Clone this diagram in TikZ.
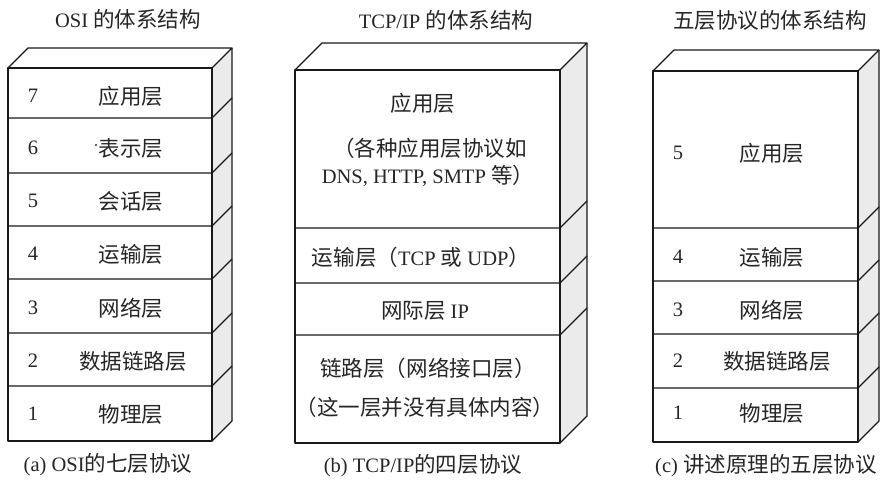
\documentclass[tikz,border=0pt]{standalone}
\usepackage{fontspec}
\setmainfont{Liberation Serif}
\newfontfamily\cjk[Scale=1.05]{Noto Sans CJK SC}
\tikzset{
  lbl/.style={inner sep=0pt, text=black!85, font=\fontsize{20.5}{24}\selectfont},
  sideface/.style={fill=black!8},
  edge/.style={line width=1.2pt, line join=round, draw=black!90}
}
\newcommand\drawstack[6]{%
  \fill[sideface] (#2,#3) -- ({#2+#5},{#3-#5}) -- ({#2+#5},{#4-#5}) -- (#2,#4) -- cycle;
  \draw[edge] (#1,#3) -- ({#1+#5},{#3-#5}) -- ({#2+#5},{#3-#5}) -- (#2,#3);
  \draw[edge] ({#2+#5},{#3-#5}) -- ({#2+#5},{#4-#5}) -- (#2,#4);
  \draw[edge] (#1,#3) rectangle (#2,#4);
  \foreach \yy in {#6} { \draw[edge] (#1,\yy) -- (#2,\yy) -- ({#2+#5},{\yy-#5}); }
}
\begin{document}
\begin{tikzpicture}[x=1pt,y=-1pt]
\useasboundingbox (0,0) rectangle (887,482);
\fill[white] (0,0) rectangle (887,482);

% ---------- (a) OSI ----------
\drawstack{8}{212}{68}{441}{20}{118,173,226,279,333,386}
\node[lbl] (ta) at (128,19) {OSI {\cjk 的体系结构}};
\node[lbl] (a7n) at (33,96) {7};
\node[lbl] (a7) at (131,96) {\cjk 应用层};
\node[lbl] (a6n) at (33,148) {6};
\node[lbl] (a6) at (131,148) {\cjk 表示层};
\fill[black!80] (96,145) circle (1.2);
\node[lbl] (a5n) at (33,201) {5};
\node[lbl] (a5) at (131,201) {\cjk 会话层};
\node[lbl] (a4n) at (33,254) {4};
\node[lbl] (a4) at (131,254) {\cjk 运输层};
\node[lbl] (a3n) at (33,308) {3};
\node[lbl] (a3) at (131,308) {\cjk 网络层};
\node[lbl] (a2n) at (33,361) {2};
\node[lbl] (a2) at (133,361) {\cjk 数据链路层};
\node[lbl] (a1n) at (33,414) {1};
\node[lbl] (a1) at (131,414) {\cjk 物理层};
\node[lbl] (ca) at (108,465) {(a) OSI{\cjk 的七层协议}};

% ---------- (b) TCP/IP ----------
\drawstack{295}{560}{70}{443}{27}{228,283,335}
\node[lbl] (tb) at (446,20) {TCP/IP {\cjk 的体系结构}};
\node[lbl] (b4) at (423,103) {\cjk 应用层};
\node[lbl] (b4a) at (430,148) {\cjk （各种应用层协议如};
\node[lbl] (b4b) at (428,176) {DNS, HTTP, SMTP {\cjk 等）}};
\node[lbl] (b3) at (421,257) {{\cjk 运输层（}TCP {\cjk 或} UDP{\cjk ）}};
\node[lbl] (b2) at (425,311) {{\cjk 网际层} IP};
\node[lbl] (b1a) at (428,368) {\cjk 链路层（网络接口层）};
\node[lbl] (b1b) at (425,407) {\cjk （这一层并没有具体内容）};
\node[lbl] (cb) at (423,466) {(b) TCP/IP{\cjk 的四层协议}};

% ---------- (c) five layers ----------
\drawstack{653}{858}{71}{442}{21}{228,281,334,388}
\node[lbl] (tc) at (770,20) {\cjk 五层协议的体系结构};
\node[lbl] (c5n) at (678,153) {5};
\node[lbl] (c5) at (772,153) {\cjk 应用层};
\node[lbl] (c4n) at (678,257) {4};
\node[lbl] (c4) at (772,257) {\cjk 运输层};
\node[lbl] (c3n) at (678,310) {3};
\node[lbl] (c3) at (772,310) {\cjk 网络层};
\node[lbl] (c2n) at (678,361) {2};
\node[lbl] (c2) at (777,361) {\cjk 数据链路层};
\node[lbl] (c1n) at (678,413) {1};
\node[lbl] (c1) at (772,413) {\cjk 物理层};
\node[lbl] (cc) at (766,466) {(c) {\cjk 讲述原理的五层协议}};
\end{tikzpicture}
\end{document}
